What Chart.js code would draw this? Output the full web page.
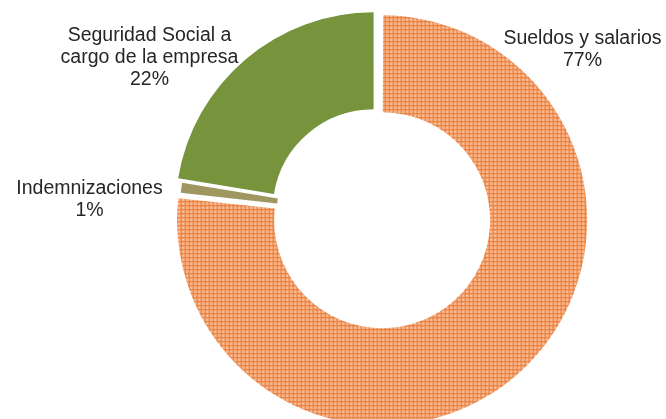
<!DOCTYPE html>
<html>
<head>
<meta charset="utf-8">
<script src="https://cdn.jsdelivr.net/npm/chart.js@4/dist/chart.umd.min.js"></script>
<style>
  html, body { margin: 0; padding: 0; background: #ffffff; overflow: hidden; }
  #wrap { width: 666px; height: 419px; overflow: hidden; position: relative; }
  canvas { display: block; }
</style>
</head>
<body>
<div id="wrap"><canvas id="c" width="666" height="430"></canvas></div>
<script>
// ---- Data ----
const categories = ["Sueldos y salarios", "Indemnizaciones", "Seguridad Social a cargo de la empresa"];
const values = [76.8, 0.8, 22.4];
// label text lines (category text split as in the reference)
const labelLines = [
  ["Sueldos y salarios"],
  ["Indemnizaciones"],
  ["Seguridad Social a", "cargo de la empresa"]
];

// ---- Styles ----
function makeGridPattern() {
  const p = document.createElement('canvas');
  p.width = 4; p.height = 4;
  const g = p.getContext('2d');
  g.fillStyle = '#f6b48c';
  g.fillRect(0, 0, 4, 4);
  g.fillStyle = '#f9caa9';
  g.fillRect(2, 2, 1, 1);
  g.fillStyle = '#ea7a30';
  g.fillRect(0, 0, 4, 1);
  g.fillRect(0, 0, 1, 4);
  return document.getElementById('c').getContext('2d').createPattern(p, 'repeat');
}
const colors = [makeGridPattern(), '#9f9660', '#77933c'];
const explode = [28, 0, 24];

// label placement relative to the doughnut centre (px): [centre x offset, first baseline offset]
const labelAnchors = [
  [205, -171],
  [-288, -21],
  [-228, -174]
];

const labelPlugin = {
  id: 'outerLabels',
  afterDatasetsDraw(chart) {
    const meta = chart.getDatasetMeta(0);
    const arc0 = meta.data[0];
    const cx = arc0.x, cy = arc0.y;
    const total = values.reduce((a, b) => a + b, 0);
    const ctx = chart.ctx;
    ctx.save();
    ctx.font = '19.5px "Liberation Sans", Arial, sans-serif';
    ctx.fillStyle = '#262626';
    ctx.textAlign = 'center';
    ctx.textBaseline = 'alphabetic';
    const lh = 21.8;
    values.forEach((v, i) => {
      const lines = labelLines[i].concat([Math.round(v / total * 100) + '%']);
      const x = cx + labelAnchors[i][0];
      let y = cy + labelAnchors[i][1];
      lines.forEach((t, k) => ctx.fillText(t, x, y + k * lh));
    });
    ctx.restore();
  }
};

new Chart(document.getElementById('c'), {
  type: 'doughnut',
  data: {
    labels: categories,
    datasets: [{
      data: values,
      backgroundColor: colors,
      hoverBackgroundColor: colors,
      borderWidth: 0,
      offset: explode,
      hoverOffset: explode
    }]
  },
  options: {
    responsive: false,
    animation: false,
    cutout: '51%',
    rotation: 0,
    layout: { padding: { top: 3, bottom: 3, left: 89, right: 0 } },
    plugins: {
      legend: { display: false },
      tooltip: { enabled: false }
    },
    events: []
  },
  plugins: [labelPlugin]
});
</script>
</body>
</html>
